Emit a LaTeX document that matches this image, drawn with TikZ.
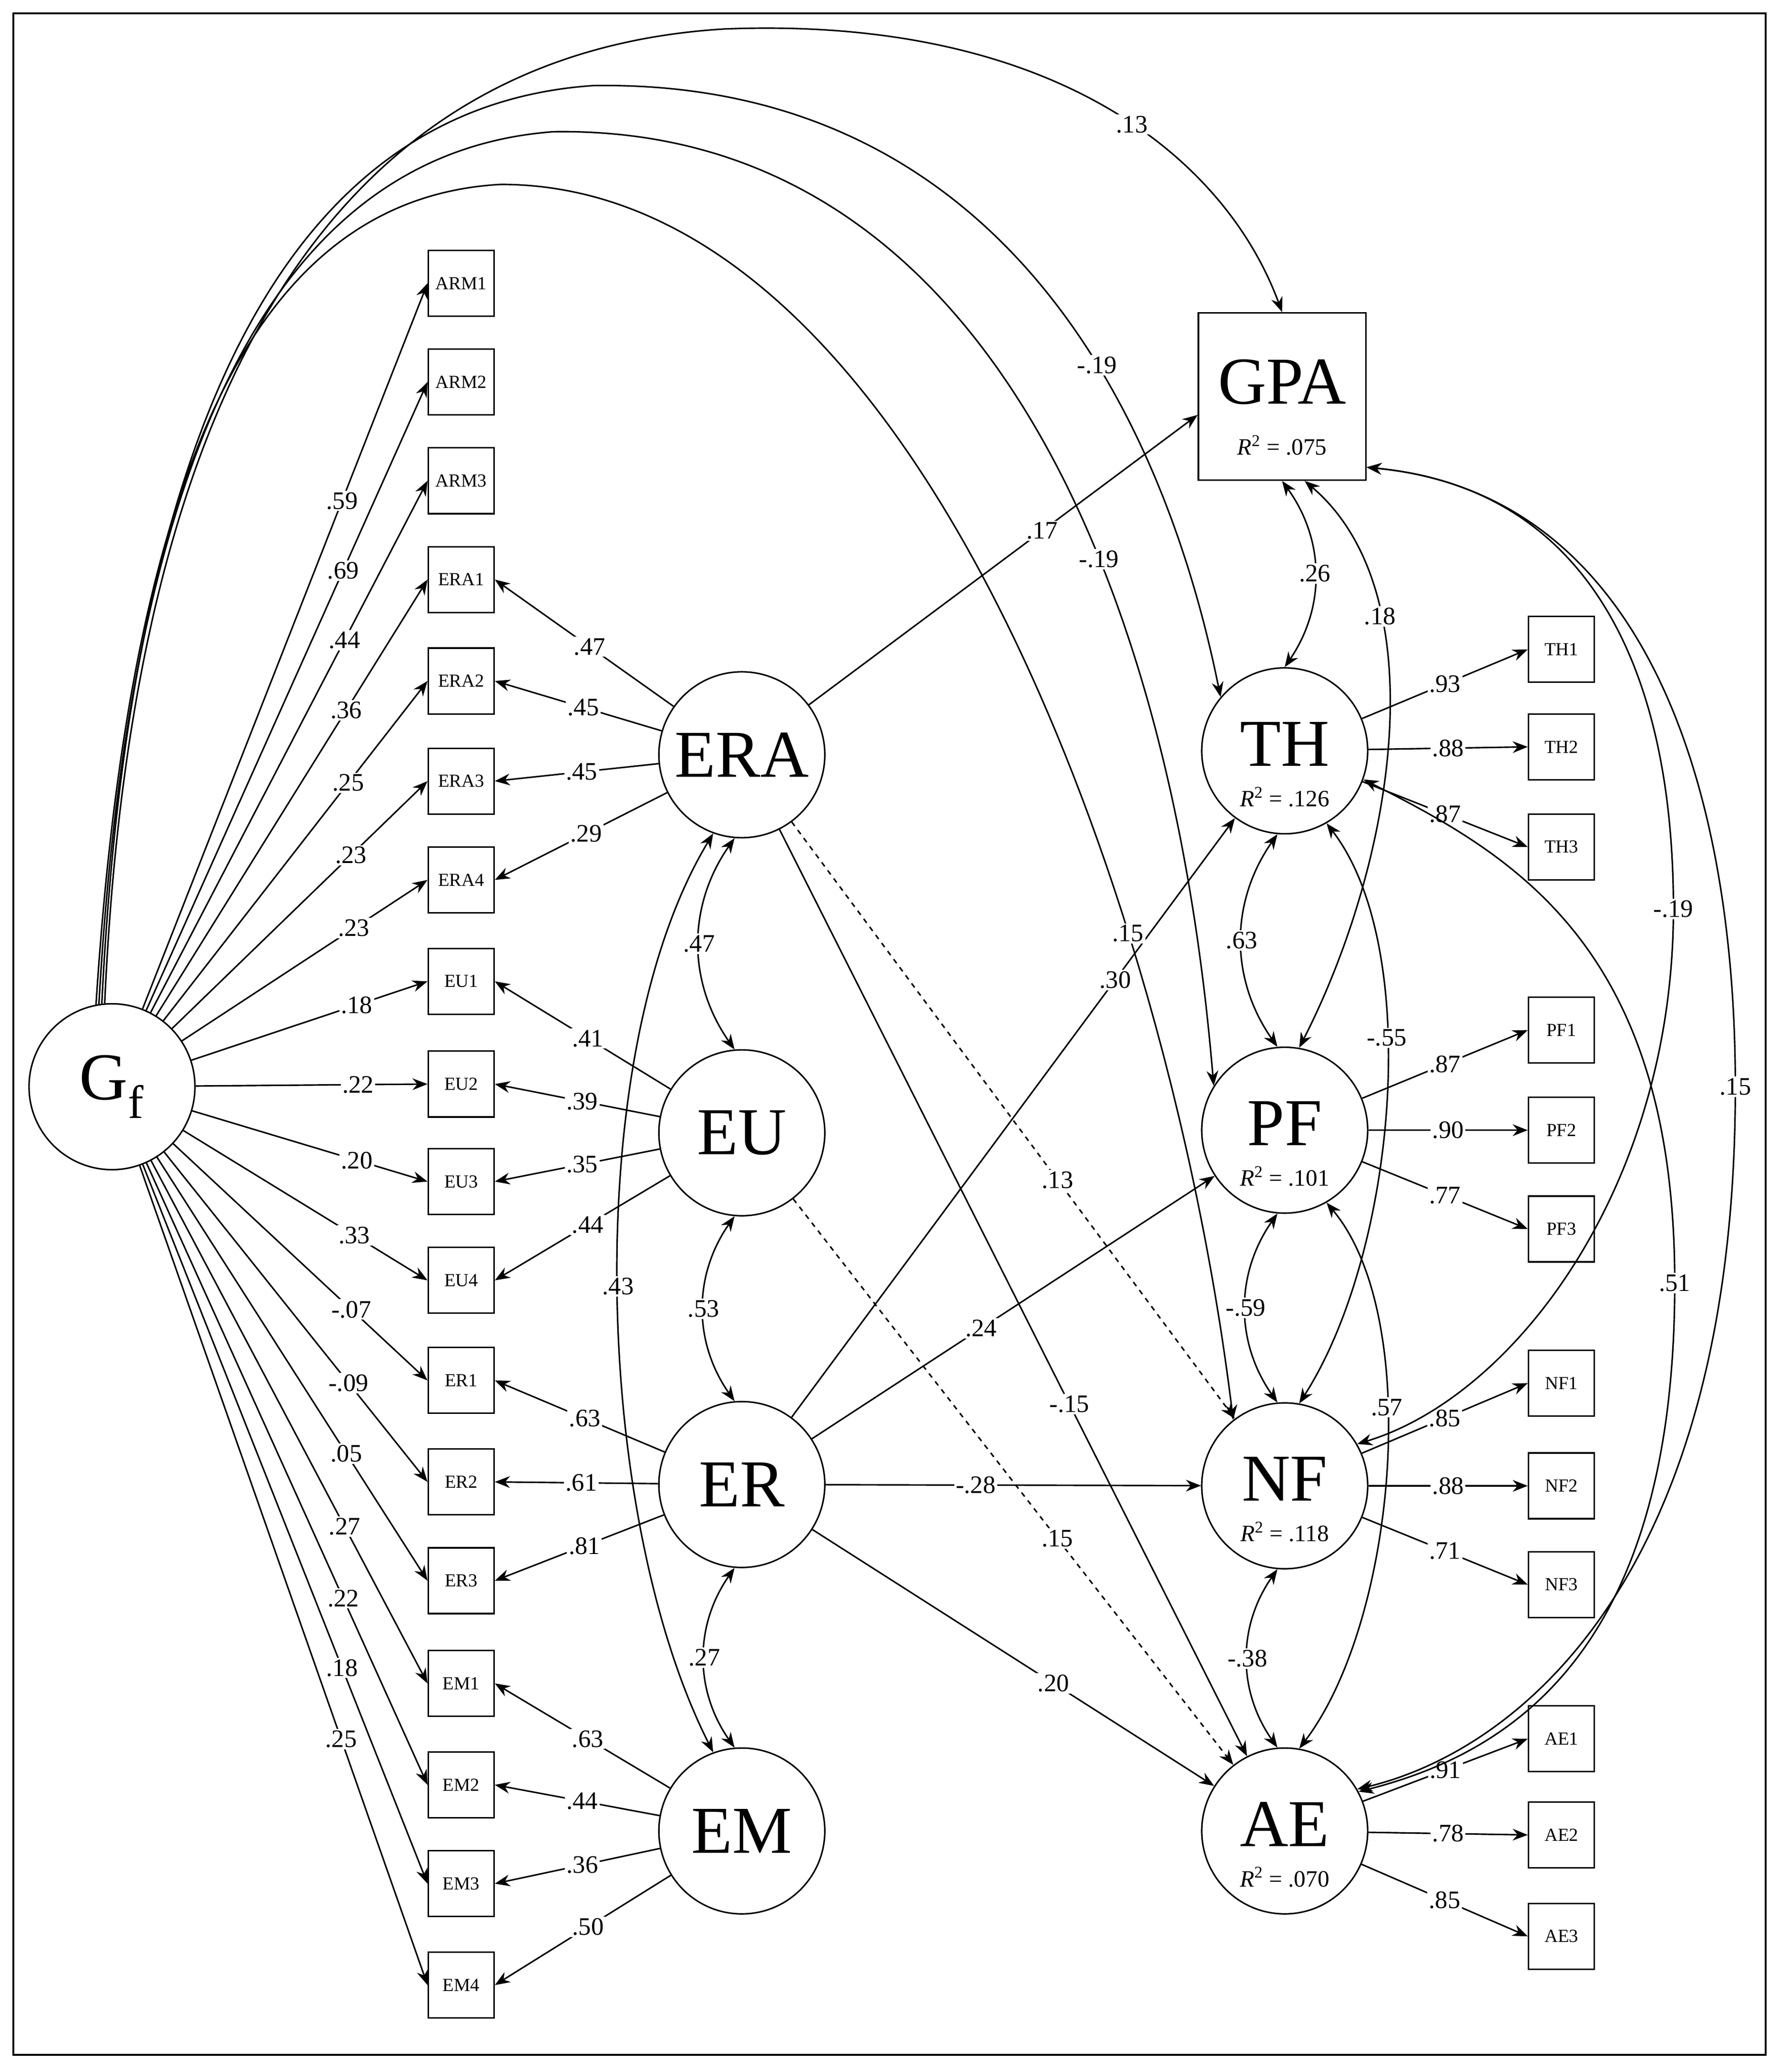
\documentclass[tikz,border=0pt]{standalone}
\usepackage{fontspec}
\setmainfont{Liberation Serif}
\usetikzlibrary{arrows.meta}
\begin{document}
\begin{tikzpicture}[x=0.02764cm,y=-0.02764cm,
  every path/.style={line width=0.9pt},
  lat/.style={draw,circle,minimum size=3.48cm,inner sep=0pt,font=\fontsize{40}{40}\selectfont},
  ind/.style={draw,minimum size=1.38cm,inner sep=0pt,font=\fontsize{11}{11}\selectfont},
  arr/.style={-{Stealth[length=9pt,width=7pt]}},
  dbl/.style={{Stealth[length=9pt,width=7pt]}-{Stealth[length=9pt,width=7pt]}},
  lb/.style={font=\fontsize{15}{15}\selectfont,fill=white,inner sep=1pt},
  r2/.style={font=\fontsize{14}{14}\selectfont}]
\useasboundingbox (0,0) rectangle (1350,1573);
\draw[line width=1.2pt] (10,10) rectangle (1340,1560);
% latents
\node[lat] (gf) at (85,825) {G\textsubscript{f}};
\node[lat] (era) at (563,573) {ERA};
\node[lat] (eu) at (563,860) {EU};
\node[lat] (er) at (563,1127) {ER};
\node[lat] (em) at (563,1390) {EM};
\node[draw,minimum size=3.51cm,inner sep=0pt] (gpa) at (973,301) {};
\node[font=\fontsize{40}{40}\selectfont] at (973,290) {GPA};
\node[r2] at (973,338) {\textit{R}\textsuperscript{2} = .075};
\node[lat] (th) at (975,570) {\raisebox{8pt}{TH}};
\node[r2] at (975,605) {\textit{R}\textsuperscript{2} = .126};
\node[lat] (pf) at (975,858) {\raisebox{8pt}{PF}};
\node[r2] at (975,893) {\textit{R}\textsuperscript{2} = .101};
\node[lat] (nf) at (975,1128) {\raisebox{8pt}{NF}};
\node[r2] at (975,1163) {\textit{R}\textsuperscript{2} = .118};
\node[lat] (ae) at (975,1390) {\raisebox{8pt}{AE}};
\node[r2] at (975,1425) {\textit{R}\textsuperscript{2} = .070};
% left indicators
\foreach \n/\y/\l in {ARM1/215/.59,ARM2/290/.69,ARM3/365/.44,ERA1/440/.36,ERA2/517/.25,ERA3/593/.23,ERA4/668/.23,EU1/745/.18,EU2/823/.22,EU3/897/.20,EU4/972/.33,ER1/1048/-.07,ER2/1125/-.09,ER3/1200/.05,EM1/1278/.27,EM2/1355/.22,EM3/1430/.18,EM4/1507/.25}{
  \node[ind] (\n) at (350,\y) {\n};
  \draw[arr] (gf) -- node[lb,pos=0.7]{\l} (\n.west);
}
\foreach \f/\n/\l in {era/ERA1/.47,era/ERA2/.45,era/ERA3/.45,era/ERA4/.29,
  eu/EU1/.41,eu/EU2/.39,eu/EU3/.35,eu/EU4/.44,
  er/ER1/.63,er/ER2/.61,er/ER3/.81,
  em/EM1/.63,em/EM2/.44,em/EM3/.36,em/EM4/.50}{
  \draw[arr] (\f) -- node[lb,pos=0.47]{\l} (\n.east);
}
% right indicators
\foreach \f/\a/\b/\c/\ya/\yb/\yc/\la/\lbb/\lc in {th/TH1/TH2/TH3/493/567/643/.93/.88/.87,
  pf/PF1/PF2/PF3/782/858/933/.87/.90/.77,
  nf/NF1/NF2/NF3/1050/1128/1203/.85/.88/.71,
  ae/AE1/AE2/AE3/1320/1393/1470/.91/.78/.85}{
  \node[ind] (\a) at (1185,\ya) {\a};
  \node[ind] (\b) at (1185,\yb) {\b};
  \node[ind] (\c) at (1185,\yc) {\c};
  \draw[arr] (\f) -- node[lb,pos=0.5]{\la} (\a.west);
  \draw[arr] (\f) -- node[lb,pos=0.5]{\lbb} (\b.west);
  \draw[arr] (\f) -- node[lb,pos=0.5]{\lc} (\c.west);
}
% structural paths
\draw[arr] (era) -- node[lb,pos=0.6]{.17} (gpa.west|-0,315);
\draw[arr] (er) -- node[lb,pos=0.73]{.30} (th);
\draw[arr] (er) -- node[lb,pos=0.42]{.24} (pf);
\draw[arr] (er) -- node[lb,pos=0.4]{-.28} (nf);
\draw[arr] (er) -- node[lb,pos=0.6]{.20} (ae);
\draw[arr] (era) -- node[lb,pos=0.62]{-.15} (ae);
\draw[arr,dashed] (era) -- node[lb,pos=0.6]{.13} (nf);
\draw[arr,dashed] (eu) -- node[lb,pos=0.6]{.15} (ae);
% Gf arcs
\draw[arr] (gf.95) .. controls (100,300) and (250,40) .. (550,22) .. controls (800,12) and (930,120) .. node[lb,pos=0.55]{.13} (gpa.north);
\draw[arr] (gf.97) .. controls (100,300) and (230,80) .. (450,65) .. controls (750,60) and (880,300) .. node[lb,pos=0.62]{-.19} (th.140);
\draw[arr] (gf.99) .. controls (100,320) and (220,115) .. (420,100) .. controls (750,95) and (890,450) .. node[lb,pos=0.62]{-.19} (pf.148);
\draw[arr] (gf.101) .. controls (100,340) and (200,150) .. (380,140) .. controls (700,140) and (890,700) .. node[lb,pos=0.7]{.15} (nf.128);
% correlations among exogenous
\draw[dbl] (era.265) to[bend right=35] node[lb]{.47} (eu.95);
\draw[dbl] (eu.265) to[bend right=35] node[lb]{.53} (er.95);
\draw[dbl] (er.265) to[bend right=35] node[lb]{.27} (em.95);
\draw[dbl] (era.250) .. controls (440,800) and (450,1150) .. node[lb,pos=0.5]{.43} (em.110);
% residual correlations
\draw[dbl] (gpa.south) to[bend left=35] node[lb]{.26} (th.north);
\draw[dbl] (gpa.-75) .. controls (1090,450) and (1060,650) .. node[lb,pos=0.3]{.18} (pf.80);
\draw[dbl] (th.265) to[bend right=35] node[lb]{.63} (pf.95);
\draw[dbl] (th.-60) .. controls (1080,720) and (1060,950) .. node[lb,pos=0.4]{-.55} (nf.80);
\draw[dbl] (pf.265) to[bend right=35] node[lb]{-.59} (nf.95);
\draw[dbl] (pf.-60) .. controls (1080,1000) and (1060,1230) .. node[lb,pos=0.4]{.57} (ae.80);
\draw[dbl] (nf.265) to[bend right=35] node[lb]{-.38} (ae.95);
\draw[dbl] (gpa.-40) .. controls (1200,370) and (1270,500) .. (1270,690) node[lb]{-.19} .. controls (1270,900) and (1150,1060) .. (nf.30);
\draw[dbl] (gpa.-40) .. controls (1250,375) and (1317,600) .. (1317,825) node[lb]{.15} .. controls (1317,1200) and (1150,1330) .. (ae.30);
\draw[dbl] (th.-20) .. controls (1150,650) and (1271,720) .. (1271,974) node[lb]{.51} .. controls (1271,1250) and (1150,1330) .. (ae.28);
\end{tikzpicture}
\end{document}
